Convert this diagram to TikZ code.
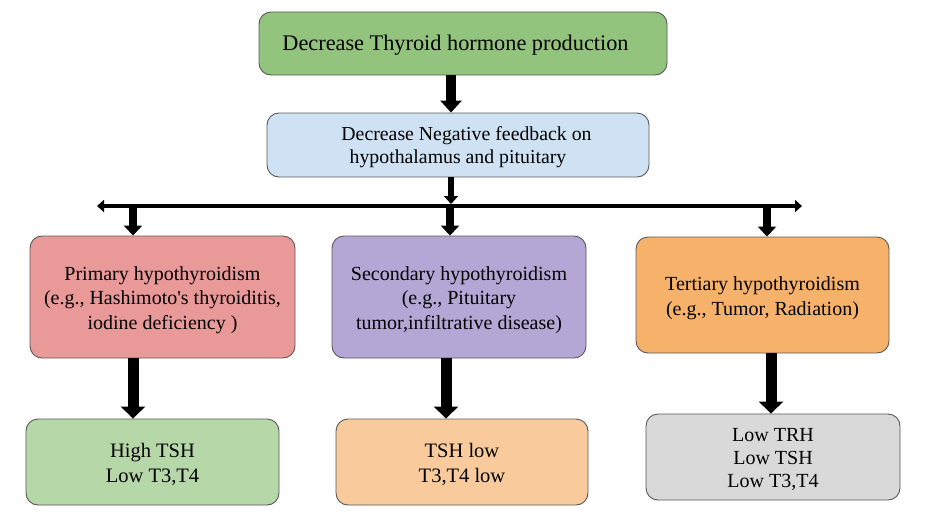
\documentclass[tikz,border=0pt]{standalone}
\usepackage{fontspec}
\setmainfont{Liberation Serif}
\usetikzlibrary{arrows.meta}
\definecolor{boxline}{HTML}{595959}
\definecolor{cTop}{HTML}{93C47D}
\definecolor{cBlue}{HTML}{CFE2F3}
\definecolor{cPink}{HTML}{EA9999}
\definecolor{cPurple}{HTML}{B4A7D6}
\definecolor{cOrange}{HTML}{F6B26B}
\definecolor{cGreen}{HTML}{B6D7A8}
\definecolor{cPeach}{HTML}{F9CB9C}
\definecolor{cGray}{HTML}{D9D9D9}
\begin{document}
\begin{tikzpicture}[x=1pt,y=-1pt,
  box/.style={draw=boxline, line width=0.9pt, rounded corners=12pt, inner sep=0pt},
  txt/.style={align=center, inner sep=0pt, yshift=-3pt},
  midfont/.style={font=\fontsize{20}{24.5}\selectfont},
  lowfont/.style={font=\fontsize{20.5}{25}\selectfont},
  bigarrow/.style={line width=10pt, -{Triangle[width=21pt,length=12pt]}},
  midarrow/.style={line width=8pt, -{Triangle[width=18pt,length=10pt]}},
  smallarrow/.style={line width=6.5pt, -{Triangle[width=14pt,length=8pt]}},
  longarrow/.style={line width=11pt, -{Triangle[width=24pt,length=12pt]}},
  hline/.style={line width=4pt, {Triangle[width=12pt,length=7pt]}-{Triangle[width=12pt,length=7pt]}}
]
\useasboundingbox (0,0) rectangle (943,531);
\fill[white] (0,0) rectangle (943,531);

% boxes
\node[box, fill=cTop, minimum width=408pt, minimum height=63pt] (top) at (463,43.5) {};
\node[box, fill=cBlue, minimum width=382pt, minimum height=64pt] (blue) at (458,145) {};
\node[box, fill=cPink, minimum width=265pt, minimum height=122pt] (pink) at (162.5,297) {};
\node[box, fill=cPurple, minimum width=254pt, minimum height=122pt] (purple) at (459,297) {};
\node[box, fill=cOrange, minimum width=253pt, minimum height=116pt] (orange) at (762.5,295) {};
\node[box, fill=cGreen, minimum width=253pt, minimum height=86pt] (green) at (152.5,462) {};
\node[box, fill=cPeach, minimum width=252pt, minimum height=86pt] (peach) at (462,462) {};
\node[box, fill=cGray, minimum width=254pt, minimum height=86pt] (gray) at (773,457) {};

% texts
\node[txt, font=\fontsize{22.3}{26}\selectfont, yshift=1.5pt] (topt) at ([xshift=-7.5pt]top.center)
  {Decrease Thyroid hormone production};
\node[txt, font=\fontsize{19.8}{23.5}\selectfont, yshift=1pt] (bluet) at (blue.center)
  {\hspace*{17pt}Decrease Negative feedback on\\hypothalamus and pituitary};
\node[txt, midfont] (pinkt) at (pink.center)
  {Primary hypothyroidism\\(e.g., Hashimoto\textquotesingle s thyroiditis,\\iodine deficiency )};
\node[txt, midfont] (purplet) at (purple.center)
  {Secondary hypothyroidism\\(e.g., Pituitary\\tumor,infiltrative disease)};
\node[txt, midfont] (oranget) at (orange.center)
  {Tertiary hypothyroidism\\(e.g., Tumor, Radiation)};
\node[txt, lowfont, yshift=0.5pt] (greent) at (green.center) {High TSH\\Low T3,T4};
\node[txt, lowfont, yshift=0.5pt] (peacht) at (peach.center) {TSH low\\T3,T4 low};
\node[txt, font=\fontsize{20}{23.3}\selectfont, yshift=0.5pt] (grayt) at (gray.center)
  {Low TRH\\Low TSH\\Low T3,T4};

% connectors
\coordinate (L) at (97,206);
\coordinate (R) at (802,206);
\coordinate (j0) at (451,204);
\coordinate (j1) at (133,208);
\coordinate (j2) at (450,208);
\coordinate (j3) at (767,208);

\draw[bigarrow] (top.south -| 451,0) -- (blue.north -| 451,0);
\draw[smallarrow] (blue.south -| j0) -- (j0);
\draw[hline] (L) -- (R);
\draw[midarrow] (j1) -- (pink.north -| j1);
\draw[midarrow] (j2) -- (purple.north -| j2);
\draw[midarrow] (j3) -- (orange.north -| j3);

\draw[longarrow] (pink.south -| 133,0) -- (green.north -| 133,0);
\draw[longarrow] (purple.south -| 446,0) -- (peach.north -| 446,0);
\draw[longarrow] (orange.south -| 771,0) -- (gray.north -| 771,0);
\end{tikzpicture}
\end{document}
